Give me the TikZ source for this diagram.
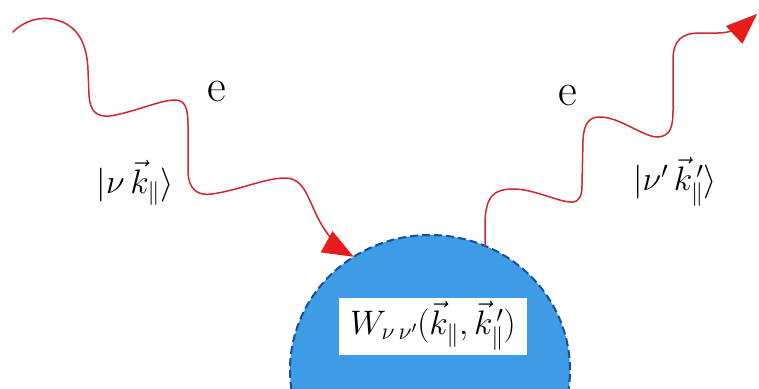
\documentclass[tikz,border=0pt]{standalone}
\usepackage{fix-cm}
\usepackage{amsmath}
\usetikzlibrary{arrows.meta,shapes.geometric}
\definecolor{wavered}{RGB}{212,38,44}
\definecolor{tipred}{RGB}{232,28,28}
\definecolor{blobfill}{RGB}{62,155,230}
\definecolor{blobedge}{RGB}{24,80,150}
\tikzset{
  wave/.style={draw=wavered, line width=1.5pt, line cap=round,
    -{Triangle[length=31pt,width=24pt,fill=tipred,color=tipred]}},
  elabel/.style={font=\fontsize{46}{50}\selectfont, inner sep=0pt},
  statelabel/.style={font=\fontsize{34}{40}\selectfont, inner sep=0pt},
  blobshape/.style={ellipse, fill=blobfill, draw=blobedge, line width=2pt,
    dash pattern=on 8pt off 4pt, minimum width=280pt, minimum height=270pt,
    inner sep=0pt, outer sep=0pt},
  ratebox/.style={fill=white, font=\fontsize{34}{40}\selectfont,
    minimum width=188pt, minimum height=57pt, inner sep=2pt}
}
\begin{document}
\begin{tikzpicture}[x=1pt,y=-1pt]
\useasboundingbox (0,0) rectangle (759,388);
\begin{scope}
\clip (0,0) rectangle (759,388);
\node[blobshape] (blob) at (430,370) {};
\end{scope}
\node[ratebox] (rate) at (433,326)
  {$W_{\nu\,\nu'}(\vec{k}_{\|},\vec{k}_{\|}^{\,\prime})$};
\coordinate (src) at (13,32);
\coordinate (dst) at (757,14);
\node[elabel] (e1) at (217,92) {e};
\node[elabel] (e2) at (568,96) {e};
\node[statelabel] (s1) at (135,183) {$|\nu\,\vec{k}_{\|}\rangle$};
\node[statelabel] (s2) at (675,182) {$|\nu'\,\vec{k}_{\|}^{\,\prime}\rangle$};
\draw[wave] (src) .. controls (25,20) and (40,17) .. (52,19)
  .. controls (75,23) and (87,40) .. (88,70) -- (89,95)
  .. controls (90,112) and (97,117) .. (110,116)
  .. controls (135,112) and (160,100) .. (175,100)
  .. controls (185,100) and (188,108) .. (188,125) -- (188,170)
  .. controls (188,190) and (198,196) .. (212,194)
  .. controls (240,190) and (265,178) .. (285,178)
  .. controls (305,178) and (308,200) .. (320,222)
  .. controls (330,240) and (345,252) .. (blob.124);
\draw[wave] (blob.66) -- (485,225)
  .. controls (485,195) and (495,189) .. (513,189)
  .. controls (535,189) and (560,203) .. (573,202)
  .. controls (580,201) and (582,195) .. (582,185) -- (583,140)
  .. controls (584,122) and (590,117) .. (600,117)
  .. controls (620,117) and (645,138) .. (658,137)
  .. controls (670,136) and (673,128) .. (673,110) -- (673,60)
  .. controls (673,40) and (682,33) .. (700,33) -- (718,33)
  .. controls (732,33) and (745,25) .. (dst);
\end{tikzpicture}
\end{document}
